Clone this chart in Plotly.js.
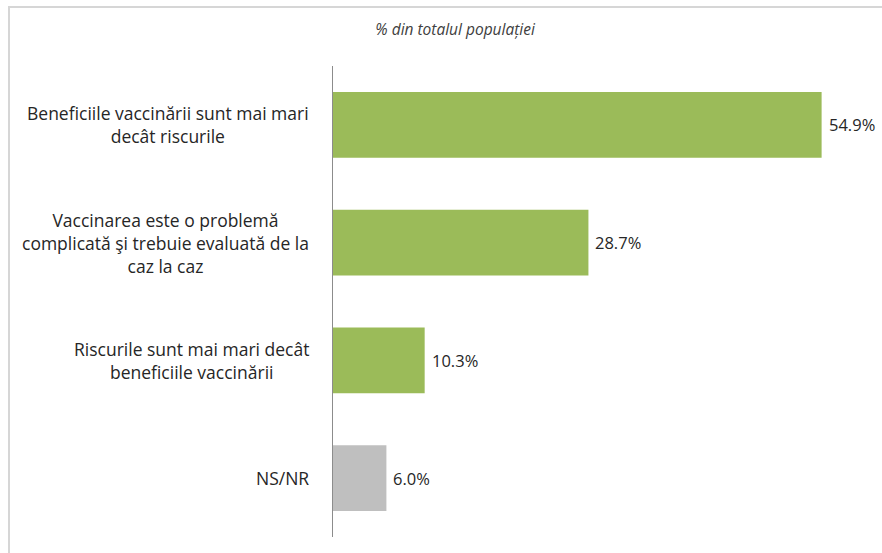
<!DOCTYPE html>
<html>
<head>
<meta charset="utf-8">
<script src="https://cdn.plot.ly/plotly-3.0.1.min.js"></script>
<style>
  html, body { margin: 0; padding: 0; background: #fff; }
  #frame { position: absolute; left: 8px; top: 6px; width: 900px; height: 600px;
           border-left: 2px solid #d6d6d6; border-top: 2px solid #d6d6d6; }
  #chart { position: absolute; left: 0; top: 0; width: 882px; height: 553px; }
</style>
</head>
<body>
<div id="frame"></div>
<div id="chart"></div>
<script>
const categories = [
  "Beneficiile vaccinării sunt mai mari<br>decât riscurile",
  "Vaccinarea este o problemă<br>complicată şi trebuie evaluată de la<br>caz la caz",
  "Riscurile sunt mai mari decât<br>beneficiile vaccinării",
  "NS/NR"
];
const values = [54.9, 28.7, 10.3, 6.0];
const valueLabels = ["54.9%", "28.7%", "10.3%", "6.0%"];
const barColors = ["#9BBB59", "#9BBB59", "#9BBB59", "#BFBFBF"];
const chartTitle = "% din totalul populației";

const ids = categories.map((c, i) => "c" + i);
const FONT = "'Open Sans', Lato, sans-serif";

const trace = {
  type: "bar",
  orientation: "h",
  x: values,
  y: ids,
  marker: { color: barColors, line: { width: 0 } },
  hoverinfo: "none"
};

const catAnnotations = categories.map((c, i) => ({
  xref: "paper", yref: "y",
  x: 0, y: ids[i],
  xshift: -22,
  xanchor: "right", yanchor: "middle",
  align: "center",
  text: c,
  showarrow: false,
  font: { family: FONT, size: 17.5, color: "#262626" }
}));

const valueAnnotations = values.map((v, i) => ({
  xref: "x", yref: "y",
  x: v, y: ids[i],
  xshift: 5,
  xanchor: "left", yanchor: "middle",
  text: valueLabels[i],
  showarrow: false,
  font: { family: FONT, size: 16.5, color: "#262626" }
}));

const layout = {
  width: 882, height: 553,
  margin: { l: 333, r: 15, t: 66, b: 16 },
  paper_bgcolor: "rgba(0,0,0,0)",
  plot_bgcolor: "rgba(0,0,0,0)",
  showlegend: false,
  bargap: 0.44,
  title: {
    text: chartTitle,
    xref: "container", yref: "container",
    x: 0.516, y: 0.946, xanchor: "center", yanchor: "middle",
    font: { family: FONT, size: 15.5, color: "#404040", style: "italic" }
  },
  xaxis: { range: [0, 60], visible: false, fixedrange: true },
  yaxis: {
    autorange: "reversed",
    showticklabels: false,
    ticks: "",
    showgrid: false,
    zeroline: false,
    showline: true,
    linecolor: "#8c8c8c",
    linewidth: 1,
    fixedrange: true
  },
  annotations: catAnnotations.concat(valueAnnotations)
};

Plotly.newPlot("chart", [trace], layout, { displayModeBar: false, staticPlot: true });
</script>
</body>
</html>
